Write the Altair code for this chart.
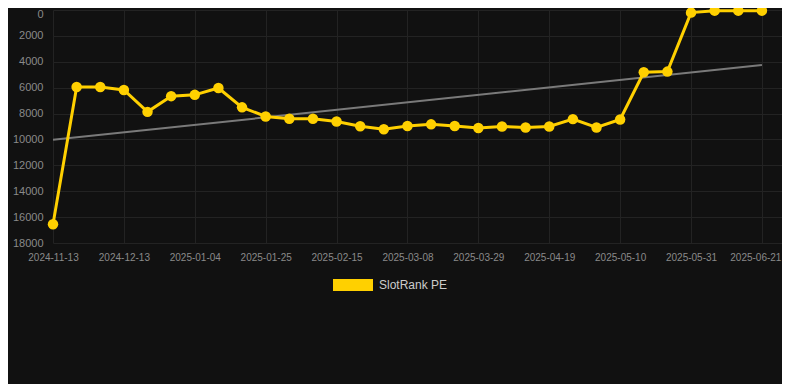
import altair as alt
import pandas as pd
import json

dates = [
    "2024-11-13", "2024-11-29", "2024-12-06", "2024-12-13", "2024-12-20", "2024-12-27",
    "2025-01-04", "2025-01-11", "2025-01-18", "2025-01-25", "2025-02-01", "2025-02-08",
    "2025-02-15", "2025-02-22", "2025-03-01", "2025-03-08", "2025-03-15", "2025-03-22",
    "2025-03-29", "2025-04-05", "2025-04-12", "2025-04-19", "2025-04-26", "2025-05-03",
    "2025-05-10", "2025-05-17", "2025-05-24", "2025-05-31", "2025-06-07", "2025-06-14",
    "2025-06-21",
]
ranks = [
    16550, 5945, 5945, 6175, 7870, 6655, 6555, 6025, 7520, 8228, 8405,
    8405, 8620, 8985, 9213, 8962, 8835, 8962, 9114, 9000, 9076, 9000,
    8430, 9076, 8455, 4810, 4760, 203, 51, 51, 51,
]
trend_values = [10030, 4250]
series_name = "SlotRank PE"
y_ticks = [0, 2000, 4000, 6000, 8000, 10000, 12000, 14000, 16000, 18000]

df = pd.DataFrame({"i": list(range(len(dates))), "date": dates, "rank": ranks,
                   "series": series_name})
trend_df = pd.DataFrame({"i": [0, len(dates) - 1], "rank": trend_values})

label_expr = json.dumps(dates) + "[datum.value]"
x_values = list(range(0, len(dates), 3))
last_i = len(dates) - 1

GOLD = "#FFD000"

x_enc = alt.X("i:Q", scale=alt.Scale(domain=[0, 30.85], nice=False, zero=False),
              axis=alt.Axis(values=x_values, labelExpr=label_expr, title=None,
                            grid=True, gridColor="#232323", domain=False, ticks=False,
                            labelColor="#8a8a8a", labelFontSize=10, labelPadding=9,
                            labelFont="Arial", labelOverlap=False, labelFlush=False,
                            labelAlign={"condition": {"test": f"datum.value == {last_i}",
                                                      "value": "right"},
                                        "value": "center"},
                            labelOffset={"condition": {"test": f"datum.value == {last_i}",
                                                       "value": 19},
                                         "value": 0}))
y_enc = alt.Y("rank:Q", scale=alt.Scale(domain=[0, 18000], reverse=True, nice=False),
              axis=alt.Axis(values=y_ticks, title=None, grid=True, gridColor="#232323",
                            domain=False, ticks=False, labelColor="#8a8a8a", format="d",
                            labelFontSize=11, labelPadding=10, labelFont="Arial",
                            labelOffset={"condition": {"test": "datum.value == 0",
                                                       "value": 4},
                                         "value": 0}))

trend = alt.Chart(trend_df).mark_line(color="#7a7a7a", strokeWidth=2).encode(
    x=x_enc, y=y_enc)

color_enc = alt.Color("series:N", scale=alt.Scale(range=[GOLD]),
                      legend=alt.Legend(title=None, orient="none", legendX=280, legendY=255,
                                        symbolType="M-1,-0.3H1V0.3H-1Z", symbolSize=1600,
                                        symbolFillColor=GOLD, symbolStrokeWidth=0,
                                        labelColor="#cccccc", labelFontSize=12,
                                        labelFont="Arial", labelOffset=6))

line = alt.Chart(df).mark_line(strokeWidth=3).encode(x=x_enc, y=y_enc, color=color_enc)
points = alt.Chart(df).mark_circle(size=110, opacity=1).encode(
    x=x_enc, y=y_enc, color=alt.Color("series:N", scale=alt.Scale(range=[GOLD]), legend=None))

chart = alt.layer(trend, line, points).properties(
    width=729, height=233,
    autosize=alt.AutoSizeParams(type="none"),
    padding={"left": 45, "top": 2, "right": 0, "bottom": 141},
    background="#111111",
).configure_view(stroke=None)

chart.save("out.html", embed_options={"renderer": "svg", "actions": False})
